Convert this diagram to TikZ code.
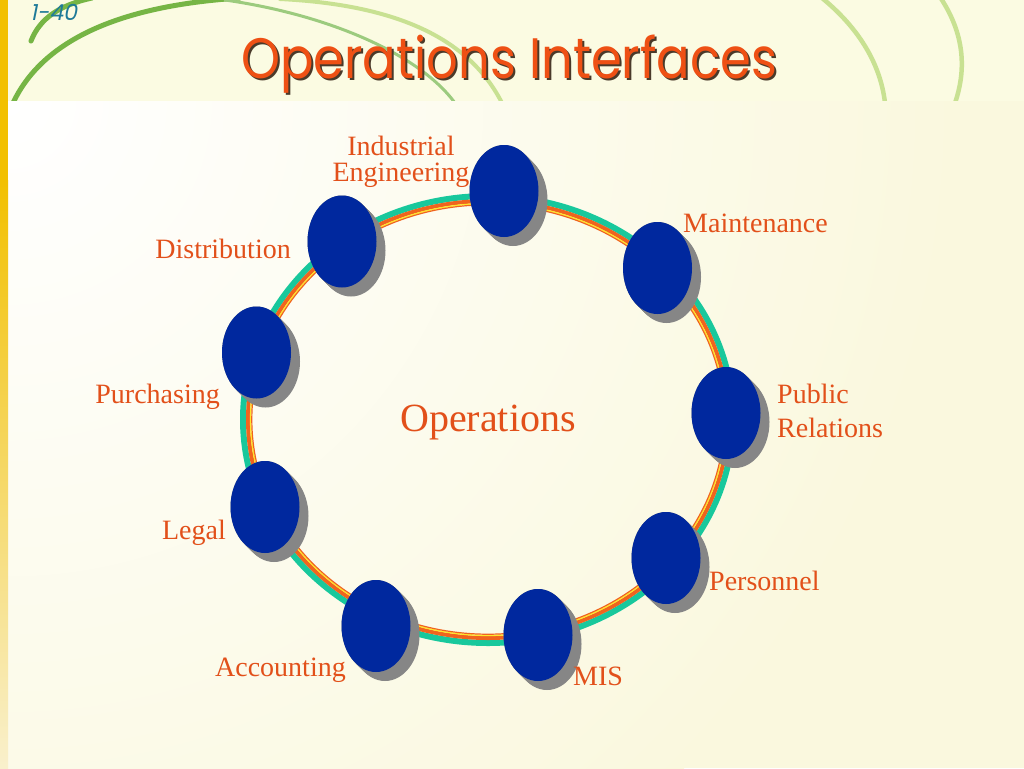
\documentclass[tikz,border=0pt]{standalone}
\usepackage{fontspec}
\usepackage{graphicx}
\setmainfont{Liberation Serif}
\newfontfamily\titlefont{Poppins}
\newfontfamily\numfont[FakeSlant=0.2]{Poppins}
\usetikzlibrary{shapes.geometric}
\definecolor{bgyellow}{HTML}{FBFBE2}
\definecolor{panelyellow}{HTML}{FAF8DE}
\definecolor{gold}{HTML}{F2C000}
\definecolor{palegold}{HTML}{F9F0CC}
\definecolor{darkgreen}{HTML}{76B545}
\definecolor{midgreen}{HTML}{9CCB7E}
\definecolor{lightgreen}{HTML}{C8E192}
\definecolor{titleorange}{HTML}{EE5014}
\definecolor{titleshade}{HTML}{4A3A2A}
\definecolor{labelorange}{HTML}{E2501A}
\definecolor{ringteal}{HTML}{18C89C}
\definecolor{ringorange}{HTML}{F0641E}
\definecolor{ringyellow}{HTML}{FFE62A}
\definecolor{discblue}{HTML}{00289E}
\definecolor{discgray}{HTML}{868686}
\definecolor{numblue}{HTML}{1E7A98}
\begin{document}
\begin{tikzpicture}[x=1pt,y=-1pt,
  lbl/.style={text=labelorange, inner sep=0pt, font=\fontsize{28}{34}\selectfont},
  disc/.style={ellipse, fill=discblue, minimum width=69pt, minimum height=92pt, inner sep=0pt},
  shadowdisc/.style={fill=discgray},
  arcline/.style={line cap=round}
]
\useasboundingbox (0,0) rectangle (1024,768);
\fill[bgyellow] (0,0) rectangle (1024,768);
% decorative arcs in the header
\begin{scope}
\clip (8,0) rectangle (1024,101);
\draw[arcline, darkgreen, line width=5pt] (13,103) .. controls (45,35) and (130,5) .. (240,-2);
\draw[arcline, darkgreen, line width=5pt] (31,41) .. controls (40,18) and (60,5) .. (92,-2);
\draw[arcline, midgreen, line width=3pt] (225,0) .. controls (330,15) and (420,55) .. (455,103);
\draw[arcline, lightgreen, line width=4pt] (280,-1) .. controls (400,5) and (470,40) .. (502,103);
\draw[arcline, lightgreen, line width=4.5pt] (822,-2) .. controls (855,25) and (880,60) .. (885,103);
\draw[arcline, lightgreen, line width=4.5pt] (940,-3) .. controls (962,30) and (968,65) .. (955,103);
\end{scope}
% content panel
\begin{scope}
\clip (8,101) rectangle (1024,768);
\fill[panelyellow] (8,101) rectangle (1024,768);
\shade[inner color=white, outer color=panelyellow] (8,101) circle (950);
\end{scope}
% left bar
\fill[gold] (0,0) rectangle (8,180);
\shade[top color=gold, bottom color=palegold] (0,180) rectangle (8,768);
% page number
\node[anchor=base west, inner sep=0pt, text=numblue, font=\numfont\fontsize{22}{22}\selectfont] (num) at (30,21) {1-40};
% title
\node[anchor=base, inner sep=0pt, text=titleshade, font=\titlefont\fontsize{57}{57}\selectfont] (titleshadow) at (511,80.5) {\scalebox{0.87}[1]{Operations Interfaces}};
\node[anchor=base, inner sep=0pt, text=titleorange, font=\titlefont\fontsize{57}{57}\selectfont] (title) at (509,78.5) {\scalebox{0.87}[1]{Operations Interfaces}};
% ring
\draw[ringteal, line width=6pt] (488,419.5) ellipse [x radius=245pt, y radius=223.5pt];
\draw[ringorange, line width=4pt] (488,419.5) ellipse [x radius=240pt, y radius=218.5pt];
\draw[ringyellow, line width=1.4pt] (488,419.5) ellipse [x radius=237.4pt, y radius=215.9pt];
\draw[ringorange, line width=1.2pt] (488,419.5) ellipse [x radius=236.2pt, y radius=214.7pt];
% discs
\foreach \nm/\cx/\cy in {ie/504/191, mt/657.5/268, pr/726/413, pe/666/558, mis/538/635, ac/376/626, lg/265/507, pu/256.5/352.5, di/342/241.5}{
  \foreach \k in {0,...,9}{
    \fill[shadowdisc] (\cx+\k,\cy+\k) ellipse [x radius=34.5pt, y radius=46pt];
  }
  \node[disc] (\nm) at (\cx,\cy) {};
}
% labels
\node[lbl, font=\fontsize{40}{40}\selectfont, anchor=base] (ops) at (488,431) {Operations};
\node[lbl, anchor=base] (ielbl) at (401,155) {\fontsize{28}{26}\selectfont\begin{tabular}[t]{@{}c@{}}Industrial\\Engineering\end{tabular}};
\node[lbl, anchor=base west] (mtlbl) at (683,232) {Maintenance};
\node[lbl, anchor=base west] (prlbl) at (777,403) {\begin{tabular}[t]{@{}l@{}}Public\\Relations\end{tabular}};
\node[lbl, anchor=base west] (pelbl) at (709,590) {Personnel};
\node[lbl, anchor=base west] (mislbl) at (573,685) {MIS};
\node[lbl, anchor=base east] (aclbl) at (346,676) {Accounting};
\node[lbl, anchor=base east] (lglbl) at (226,539) {Legal};
\node[lbl, anchor=base east] (pulbl) at (220,403) {Purchasing};
\node[lbl, anchor=base east] (dilbl) at (291,258) {Distribution};
\end{tikzpicture}
\end{document}
